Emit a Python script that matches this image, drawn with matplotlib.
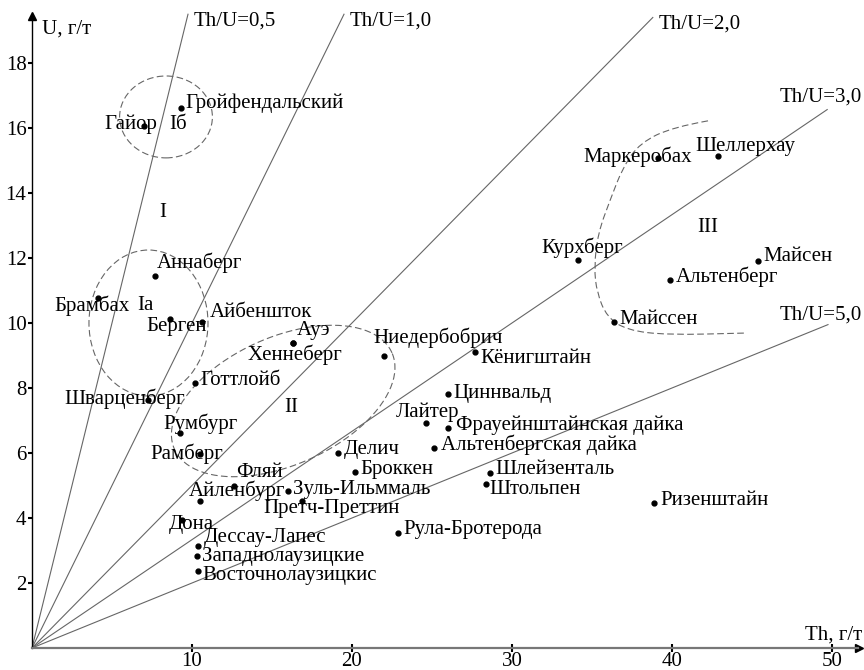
import numpy as np
import matplotlib.pyplot as plt
from matplotlib.patches import Ellipse, PathPatch
from matplotlib.path import Path

plt.rcParams['font.family'] = ['Liberation Serif', 'DejaVu Serif']

# Th, г/т и U, г/т по месторождениям
names = ['Гайор', 'Гройфендальский', 'Аннаберг', 'Брамбах', 'Берген', 'Айбеншток',
         'Ауэ', 'Хеннеберг', 'Готтлойб', 'Шварценберг', 'Румбург', 'Рамберг',
         'Фляй', 'Айленбург', 'Дона', 'Дессау-Лапес', 'Западнолаузицкие',
         'Восточнолаузицкис', 'Ниедербобрич', 'Кёнигштайн', 'Циннвальд', 'Лайтер',
         'Фрауейнштайнская дайка', 'Альтенбергская дайка', 'Делич', 'Броккен',
         'Шлейзенталь', 'Штольпен', 'Зуль-Ильммаль', 'Претч-Преттин',
         'Рула-Бротерода', 'Маркеробах', 'Шеллерхау', 'Курхберг', 'Майсен',
         'Альтенберг', 'Майссен', 'Ризенштайн']
th = [7.0, 9.3, 7.7, 4.1, 8.6, 10.6, 16.3, 16.3, 10.2, 7.25, 9.25, 10.5,
      12.6, 10.5, 9.4, 10.4, 10.3, 10.4, 22.0, 27.7, 26.0, 24.6,
      26.0, 25.1, 19.1, 20.2, 28.6, 28.4, 16.0, 16.9,
      22.9, 39.1, 42.9, 34.1, 45.4, 39.9, 36.4, 38.9]
u = [16.06, 16.6, 11.45, 10.77, 10.12, 10.03, 9.38, 9.38, 8.15, 7.63, 6.62, 5.97,
     4.98, 4.52, 3.94, 3.14, 2.83, 2.37, 8.98, 9.1, 7.81, 6.92,
     6.77, 6.15, 6.0, 5.42, 5.39, 5.05, 4.83, 4.52,
     3.54, 15.08, 15.14, 11.94, 11.9, 11.32, 10.03, 4.46]

# Линии Th/U
ratios = [0.5, 1.0, 2.0, 3.0, 5.0]
ratio_labels = ['Th/U=0,5', 'Th/U=1,0', 'Th/U=2,0', 'Th/U=3,0', 'Th/U=5,0']
ray_end_th = [9.75, 19.5, 38.8, 49.7, 49.75]
ray_lab_off = [(6, -7, 'left'), (6, -7, 'left'), (6, -7, 'left'),
               (35, 13, 'right'), (34, 10, 'right')]

# label offsets (pixels) and alignment
offs = {
    'Гайор': (13, 2, 'right'), 'Гройфендальский': (5, 5, 'left'),
    'Аннаберг': (2, 13, 'left'), 'Брамбах': (-6, -8, 'center'),
    'Берген': (7, -7, 'center'), 'Айбеншток': (8, 10, 'left'),
    'Ауэ': (4, 13, 'left'), 'Хеннеберг': (-45, -12, 'left'),
    'Готтлойб': (5, 3, 'left'), 'Шварценберг': (-23, 1, 'center'),
    'Румбург': (-17, 9, 'left'), 'Рамберг': (-50, 0, 'left'),
    'Фляй': (3, 14, 'left'), 'Айленбург': (-11, 10, 'left'),
    'Дона': (-14, -5, 'left'), 'Дессау-Лапес': (5, 8, 'left'),
    'Западнолаузицкие': (5, 0, 'left'), 'Восточнолаузицкис': (4, -5, 'left'),
    'Ниедербобрич': (-11, 18, 'left'), 'Кёнигштайн': (5, -6, 'left'),
    'Циннвальд': (5, 1, 'left'), 'Лайтер': (-30, 11, 'left'),
    'Фрауейнштайнская дайка': (8, 3, 'left'), 'Альтенбергская дайка': (7, 3, 'left'),
    'Делич': (6, 3, 'left'), 'Броккен': (5, 2, 'left'),
    'Шлейзенталь': (6, 3, 'left'), 'Штольпен': (3, -6, 'left'),
    'Зуль-Ильммаль': (5, 2, 'left'), 'Претч-Преттин': (-39, -7, 'left'),
    'Рула-Бротерода': (5, 3, 'left'), 'Маркеробах': (-74, 1, 'left'),
    'Шеллерхау': (-23, 9, 'left'), 'Курхберг': (-36, 12, 'left'),
    'Майсен': (5, 5, 'left'), 'Альтенберг': (5, 3, 'left'),
    'Майссен': (5, 3, 'left'), 'Ризенштайн': (6, 3, 'left'),
}

# поле III (незамкнутая кривая)
field3_th = [42.25, 40.06, 38.0, 36.94, 36.13, 35.38, 35.13, 35.31, 35.94, 37.19, 39.69, 44.56]
field3_u = [16.22, 16.03, 15.54, 14.8, 13.78, 12.77, 11.72, 10.92, 10.18, 9.78, 9.63, 9.69]

fs = 15
fig = plt.figure(figsize=(8.64, 6.70), dpi=100)
ax = fig.add_axes([0, 0, 1, 1])
ax.set_xlim(-2, 52)
ax.set_ylim(-0.677, 19.938)

for s in ['top', 'right']:
    ax.spines[s].set_visible(False)
ax.spines['left'].set_position(('data', 0))
ax.spines['bottom'].set_position(('data', 0))
ax.spines['left'].set_bounds(0, 19.3)
ax.spines['bottom'].set_bounds(0, 51.6)
ax.spines['left'].set_linewidth(1.0)
ax.spines['bottom'].set_linewidth(1.6)
ax.spines['bottom'].set_color('#777777')
ax.plot([51.7], [0], marker='>', color='black', ms=6, clip_on=False)
ax.plot([0], [19.45], marker='^', color='black', ms=6, clip_on=False)

ax.set_xticks([10, 20, 30, 40, 50])
ax.set_yticks([2, 4, 6, 8, 10, 12, 14, 16, 18])
ax.tick_params(axis='y', direction='out', length=3, width=1.5, labelsize=fs, pad=1)
ax.tick_params(axis='x', direction='inout', length=6, width=1.5, labelsize=fs, pad=0)

ax.text(0.6, 19.05, 'U, г/т', fontsize=fs, va='center', ha='left')
ax.text(51.9, 0.12, 'Th, г/т', fontsize=fs, va='bottom', ha='right')

# лучи Th/U
for r, lab, te, (dx, dy, ha) in zip(ratios, ratio_labels, ray_end_th, ray_lab_off):
    ax.plot([0, te], [0, te / r], color='#666666', lw=0.8)
    ax.annotate(lab, (te, te / r), xytext=(dx, dy), textcoords='offset pixels',
                fontsize=fs, ha=ha, va='center')

# поля
dash = dict(fill=False, ec='#666666', lw=0.8, ls=(0, (6, 3)))
ax.add_patch(Ellipse((8.375, 16.34), 5.8, 2.52, **dash))
ax.add_patch(Ellipse((7.28, 10.0), 7.44, 4.49, **dash))
t = np.linspace(0, 2 * np.pi, 200)
c2 = np.array([15.7, 7.6])
a2 = np.array([6.8, 1.48])
b2 = np.array([-1.6, 1.8])
ax.plot(c2[0] + a2[0] * np.cos(t) + b2[0] * np.sin(t),
        c2[1] + a2[1] * np.cos(t) + b2[1] * np.sin(t),
        color='#666666', lw=0.8, ls=(0, (6, 3)))

pts = list(zip(field3_th, field3_u))
verts = [pts[0]]
codes = [Path.MOVETO]
for i in range(1, len(pts) - 1):
    mid = ((pts[i][0] + pts[i + 1][0]) / 2, (pts[i][1] + pts[i + 1][1]) / 2)
    verts += [pts[i], mid]
    codes += [Path.CURVE3, Path.CURVE3]
verts.append(pts[-1])
codes.append(Path.LINETO)
ax.add_patch(PathPatch(Path(verts, codes), **dash))

# точки и подписи
ax.plot(th, u, 'o', color='black', ms=3.5, ls='none')
for n, x, y in zip(names, th, u):
    dx, dy, ha = offs[n]
    ax.annotate(n, (x, y), xytext=(dx, dy), textcoords='offset pixels',
                fontsize=fs, ha=ha, va='center')

ax.text(8.2, 13.4, 'I', fontsize=fs, ha='center', va='center')
ax.text(9.1, 16.1, 'Iб', fontsize=fs, ha='center', va='center')
ax.text(7.1, 10.55, 'Ia', fontsize=fs, ha='center', va='center')
ax.text(16.2, 7.41, 'II', fontsize=fs, ha='center', va='center')
ax.text(42.25, 12.95, 'III', fontsize=fs, ha='center', va='center')

fig.savefig('out.png', dpi=100)
